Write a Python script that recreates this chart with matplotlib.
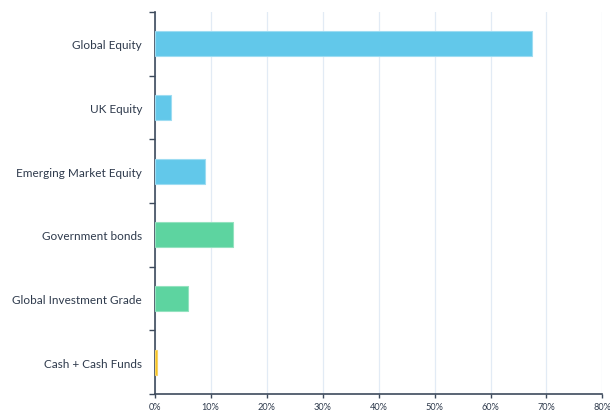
import numpy as np
from matplotlib import pyplot as plt
from matplotlib.ticker import FixedLocator, PercentFormatter

plt.rcParams['font.family'] = ['Lato', 'DejaVu Sans']

# 资产类别及权重
categories = ['Global Equity', 'UK Equity', 'Emerging Market Equity',
              'Government bonds', 'Global Investment Grade', 'Cash + Cash Funds']
weights = [67.5, 3.0, 9.0, 14.0, 6.0, 0.5]
colors = ['#62c8ea', '#62c8ea', '#62c8ea', '#5dd4a0', '#5dd4a0', '#f5c11a']
edges = ['#9ddcf2', '#9ddcf2', '#9ddcf2', '#93e2bf', '#93e2bf', '#f8d468']

fig = plt.figure(figsize=(6.1, 4.14), dpi=100)
ax = fig.add_axes([0.2533, 0.0459, 0.7344, 0.9227])

y = np.arange(len(categories))
ax.barh(y, weights, height=0.39, color=colors, edgecolor=edges, linewidth=0.8, zorder=3)

ax.set_xlim(0, 80)
ax.set_ylim(len(categories) - 0.5, -0.5)
ax.set_xticks(np.arange(0, 81, 10))
ax.xaxis.set_major_formatter(PercentFormatter(decimals=0))
ax.grid(axis='x', color='#e2ebf5', linewidth=0.9, zorder=0)

ax.set_yticks(y)
ax.set_yticklabels(categories)
ax.yaxis.set_minor_locator(FixedLocator(np.arange(-0.5, len(categories), 1)))
ax.tick_params(axis='y', which='major', length=0, pad=9, labelsize=8.5, labelcolor='#2e3a4c')
ax.tick_params(axis='y', which='minor', length=4, width=1, color='#3d4a5c')
ax.tick_params(axis='x', length=3, width=1, color='#3d4a5c', labelsize=6.6,
               labelcolor='#2e3a4c', pad=2.5)

for s in ['top', 'right']:
    ax.spines[s].set_visible(False)
for s in ['left', 'bottom']:
    ax.spines[s].set_color('#3d4a5c')
    ax.spines[s].set_linewidth(1.2)

plt.savefig('out.png', dpi=100)
